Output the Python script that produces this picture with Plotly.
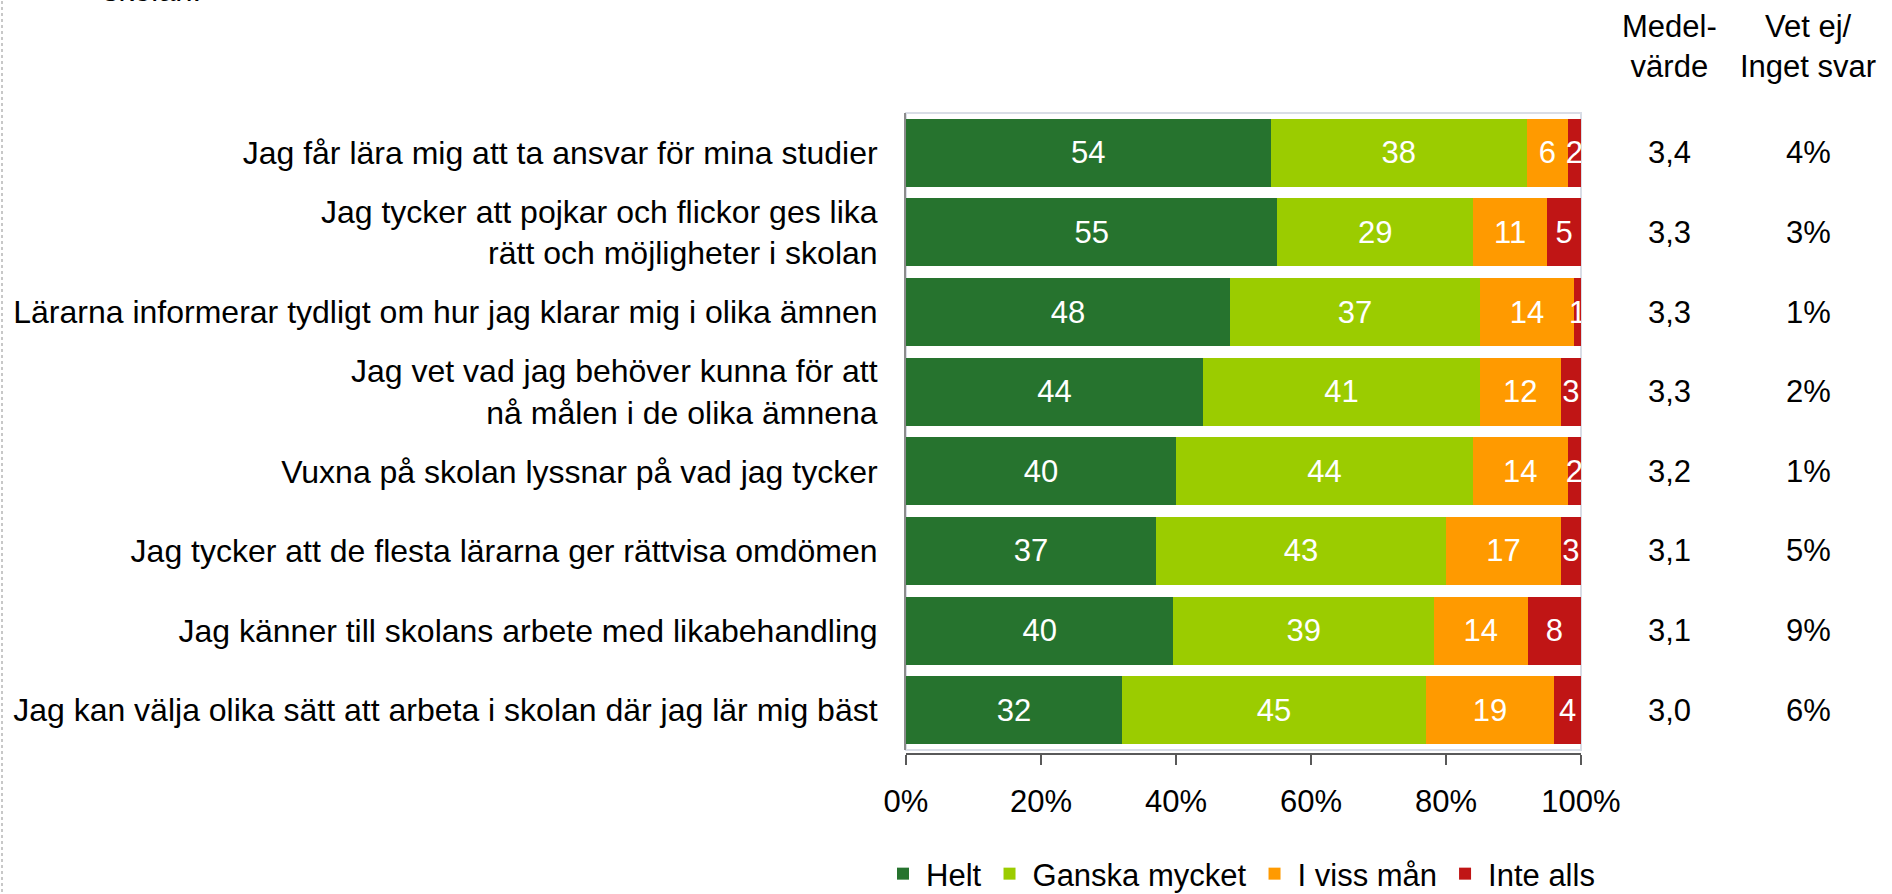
import plotly.graph_objects as go

categories = [
    "Jag får lära mig att ta ansvar för mina studier",
    "Jag tycker att pojkar och flickor ges lika<br>rätt och möjligheter i skolan",
    "Lärarna informerar tydligt om hur jag klarar mig i olika ämnen",
    "Jag vet vad jag behöver kunna för att<br>nå målen i de olika ämnena",
    "Vuxna på skolan lyssnar på vad jag tycker",
    "Jag tycker att de flesta lärarna ger rättvisa omdömen",
    "Jag känner till skolans arbete med likabehandling",
    "Jag kan välja olika sätt att arbeta i skolan där jag lär mig bäst",
]
helt = [54, 55, 48, 44, 40, 37, 40, 32]
ganska = [38, 29, 37, 41, 44, 43, 39, 45]
viss = [6, 11, 14, 12, 14, 17, 14, 19]
inte = [2, 5, 1, 3, 2, 3, 8, 4]
medel = ["3,4", "3,3", "3,3", "3,3", "3,2", "3,1", "3,1", "3,0"]
vetej = ["4%", "3%", "1%", "2%", "1%", "5%", "9%", "6%"]
series_names = ["Helt", "Ganska mycket", "I viss mån", "Inte alls"]
colors = ["#26732E", "#9BCC00", "#FF9A00", "#C01515"]
tick_vals = [0, 20, 40, 60, 80, 100]

FONT = "Liberation Sans, Arial, sans-serif"
FS = 31

W, H = 1892, 894
L, R = 906, 1581
T, B = 113, 754

fig = go.Figure()
for name, vals, col in zip(series_names, [helt, ganska, viss, inte], colors):
    fig.add_trace(go.Bar(
        y=categories, x=vals, name=name, orientation="h",
        marker=dict(color=col, line=dict(width=0)),
        text=[str(v) for v in vals], textposition="inside",
        insidetextanchor="middle", constraintext="none",
        textfont=dict(color="white", size=FS, family=FONT),
        hoverinfo="skip",
    ))

def px_to_px(x):
    return (x - L) / (R - L)

def py_to_py(y):
    return (B - y) / (B - T)

ydom0 = (B - 750) / (B - T)

fig.update_layout(
    width=W, height=H,
    barmode="stack", barnorm="percent", bargap=0.146,
    plot_bgcolor="white", paper_bgcolor="white",
    margin=dict(l=L, r=W - R, t=T, b=H - B, pad=0, autoexpand=False),
    font=dict(family=FONT, size=FS, color="black"),
    uniformtext=dict(minsize=FS, mode="show"),
    showlegend=True,
    legend=dict(orientation="h", xref="paper", yref="paper",
                x=px_to_px(1600), xanchor="right", y=py_to_py(874), yanchor="middle",
                font=dict(size=FS, family=FONT, color="black"), traceorder="normal",
                itemwidth=36, bgcolor="rgba(0,0,0,0)"),
    xaxis=dict(range=[0, 100], tickvals=tick_vals, ticktext=[f"{v}%" for v in tick_vals],
               showgrid=False, zeroline=False, showline=True, linecolor="#595959", linewidth=2,
               ticks="outside", ticklen=10, tickwidth=2, tickcolor="#595959",
               anchor="free", position=0, tickfont=dict(size=FS, color="black"),
               ticklabelstandoff=10, fixedrange=True),
    yaxis=dict(autorange="reversed", domain=[ydom0, 1], showgrid=False, zeroline=False,
               showline=True, linecolor="#8c8c8c", linewidth=2, ticks="",
               ticklabelstandoff=20, tickfont=dict(size=32, color="black"), fixedrange=True),
)

# light plot-area border
fig.add_shape(type="rect", xref="paper", yref="paper", x0=0, x1=1, y0=ydom0, y1=1,
              line=dict(color="#D9DDE6", width=2), layer="below")

# left dotted page border
fig.add_shape(type="line", xref="paper", yref="paper",
              x0=px_to_px(2), x1=px_to_px(2), y0=py_to_py(-5), y1=py_to_py(H + 5),
              line=dict(color="#C8C8C8", width=2, dash="dot"))

# column headers
hx_medel = px_to_px(1669)
hx_vet = px_to_px(1808)
fig.add_annotation(x=hx_medel, y=py_to_py(46), xref="paper", yref="paper",
                   text="Medel-<br>värde", showarrow=False, xanchor="center", yanchor="middle",
                   font=dict(size=FS, color="black"))
fig.add_annotation(x=hx_vet, y=py_to_py(46), xref="paper", yref="paper",
                   text="Vet ej/<br>Inget svar", showarrow=False, xanchor="center", yanchor="middle",
                   font=dict(size=FS, color="black"))

for cat, m, v in zip(categories, medel, vetej):
    fig.add_annotation(x=hx_medel, y=cat, xref="paper", yref="y", text=m, showarrow=False,
                       xanchor="center", yanchor="middle", font=dict(size=FS, color="black"))
    fig.add_annotation(x=hx_vet, y=cat, xref="paper", yref="y", text=v, showarrow=False,
                       xanchor="center", yanchor="middle", font=dict(size=FS, color="black"))

# cut-off title at the very top
fig.add_annotation(x=px_to_px(101), y=py_to_py(-10), xref="paper", yref="paper",
                   text="skolan.", showarrow=False, xanchor="left", yanchor="middle",
                   font=dict(size=FS, color="black"))

fig.write_html("out.html", config={"displayModeBar": False},
               post_script="document.body.style.margin='0';")
